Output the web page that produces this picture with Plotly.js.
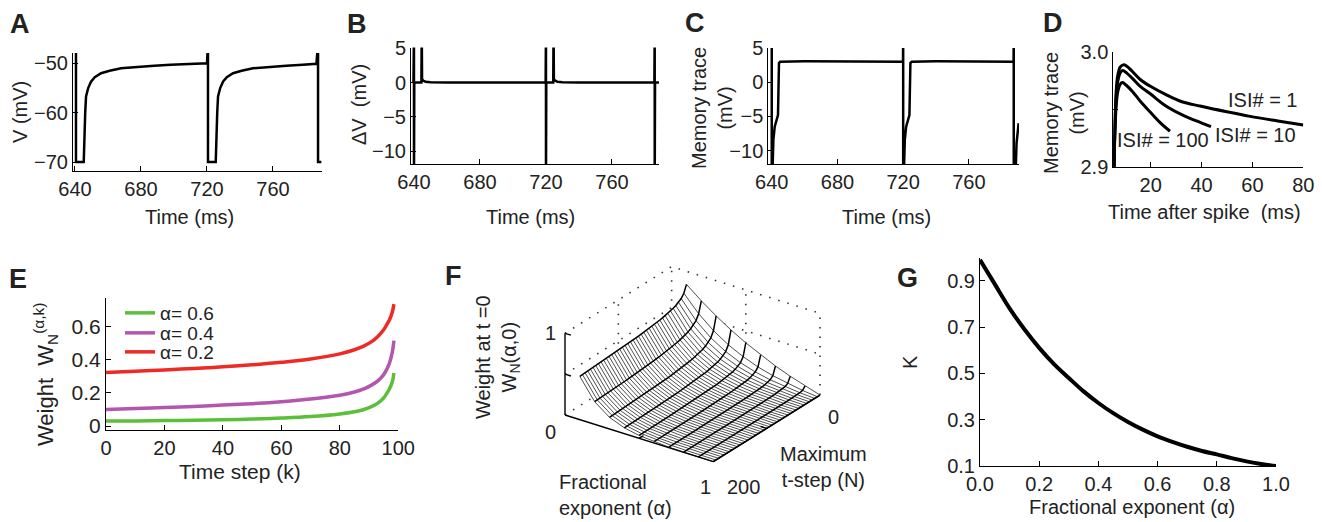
<!DOCTYPE html>
<html><head><meta charset="utf-8">
<script src="https://cdn.plot.ly/plotly-3.0.1.min.js"></script>
<style>html,body{margin:0;padding:0;background:#fff}#chart{width:1322px;height:522px}</style>
</head><body><div id="chart"></div>
<script>
// ---------- Panel A: membrane potential ----------
const tA = [640.6,640.6,645.3,645.5,645.7,646.2,646.7,648.0,649.7,652.0,655.8,661.0,667.9,678.0,688.0,698.0,706.0,714.0,720.0,720.6,720.6,725.3,725.5,725.7,726.2,726.7,728.0,729.7,732.0,735.8,741.0,747.9,758.0,768.1,778.0,786.3,787.3,787.3,789.3];
const vA = [-46,-70,-70,-67,-64.8,-60,-56.7,-55,-53.7,-52.8,-52.0,-51.5,-51.0,-50.7,-50.5,-50.3,-50.2,-50.1,-50.0,-46,-70,-70,-67,-64.8,-60,-56.7,-55,-53.7,-52.8,-52.0,-51.5,-51.0,-50.7,-50.5,-50.3,-50.1,-46,-70,-70];
// ---------- Panel B: delta V ----------
const tB = [639.7,640.0,640.0,640.2,644.5,644.7,644.9,645.5,647.0,650.0,660.0,719.8,720.0,720.0,720.2,724.4,724.6,724.8,725.4,727.0,730.0,740.0,785.7,785.9,785.9,786.1,788.5];
const vB = [0,8,-15,0,0,8,0.5,0.3,0.1,0.03,0,0,8,-15,0,0,8,0.5,0.3,0.1,0.03,0,0,8,-15,0,0];
// ---------- Panel C: memory trace ----------
const tC = [640.0,640.0,640.6,641.0,641.8,643.8,644.4,645.2,660.0,700.0,719.9,720.0,720.0,720.6,721.0,721.8,723.8,724.4,725.2,740.0,787.2,787.3,787.3,788.6,789.0,790.3];
const vC = [8,-15,-11.8,-8.4,-6.5,-4.8,2.8,3.0,3.05,3.0,3.0,8,-15,-11.8,-8.4,-6.5,-4.8,2.8,3.0,3.05,3.0,8,-15,-12,-8.9,-6.0];
// ---------- Panel D: memory trace after spike ----------
const tD1 = [5.6,6.0,6.5,7.0,8.0,9.2,10.5,12.9,16,19.7,26,32,39.4,49.9,59.1,70,80];
const vD1 = [2.899,2.94,2.968,2.979,2.987,2.989,2.988,2.983,2.976,2.9705,2.963,2.957,2.953,2.948,2.944,2.940,2.9365];
const tD10 = [5.6,6.0,6.5,7.0,8.0,8.9,10.5,12.9,16,19.7,26,32.6,38,43.7];
const vD10 = [2.899,2.94,2.963,2.974,2.982,2.984,2.982,2.977,2.970,2.964,2.953,2.945,2.940,2.935];
const tD100 = [5.6,6.0,6.5,7.0,8.0,8.9,10.5,12.9,16,19.7,23.5,27.6];
const vD100 = [2.899,2.935,2.955,2.965,2.972,2.9735,2.971,2.9656,2.957,2.948,2.939,2.931];
const labelsD = ['ISI# = 1','ISI# = 10','ISI# = 100'];
// ---------- Panel E: weights ----------
const kE = [0,10,20,30,40,50,60,70,80,85,88,91,93,95,96,97,98,98.5];
const wE06 = [0.030,0.031,0.033,0.035,0.038,0.042,0.048,0.057,0.073,0.086,0.098,0.118,0.138,0.17,0.195,0.225,0.27,0.32];
const wE04 = [0.100,0.105,0.111,0.118,0.126,0.135,0.147,0.163,0.186,0.205,0.222,0.248,0.272,0.31,0.34,0.38,0.45,0.515];
const wE02 = [0.322,0.330,0.338,0.347,0.357,0.369,0.384,0.404,0.435,0.46,0.48,0.51,0.54,0.58,0.61,0.64,0.69,0.735];
const namesE = ['α= 0.6','α= 0.4','α= 0.2'];
const colorsE = ['#5cbf3a','#b455b0','#ee2a24'];
// ---------- Panel F: weight at t=0, W_N(alpha,0), rows = alpha, columns = N ----------
const aF = [0.1,0.2,0.3,0.4,0.5,0.6,0.7,0.8,0.9,1.0];
const nF = [0,5,10,15,20,25,30,35,40,45,50,55,60,65,70,75,80,85,90,95,100,105,110,115,120,125,130,135,140,145,150,155,160,165,170,175,180,185,190,195,200];
const zF = [
 [0.840,0.752,0.708,0.682,0.664,0.650,0.638,0.629,0.621,0.614,0.608,0.602,0.597,0.592,0.588,0.584,0.580,0.577,0.573,0.571,0.567,0.564,0.562,0.560,0.557,0.555,0.553,0.551,0.549,0.547,0.545,0.543,0.542,0.540,0.538,0.537,0.535,0.534,0.532,0.531,0.530],
 [0.696,0.559,0.495,0.460,0.436,0.417,0.402,0.391,0.381,0.372,0.365,0.358,0.352,0.346,0.341,0.337,0.332,0.329,0.325,0.322,0.318,0.314,0.311,0.310,0.306,0.305,0.302,0.300,0.298,0.296,0.293,0.291,0.290,0.288,0.286,0.284,0.283,0.281,0.280,0.278,0.277],
 [0.568,0.409,0.341,0.305,0.281,0.263,0.250,0.239,0.230,0.222,0.216,0.210,0.204,0.200,0.195,0.191,0.187,0.184,0.181,0.179,0.175,0.172,0.170,0.169,0.166,0.165,0.162,0.161,0.159,0.158,0.155,0.154,0.152,0.151,0.150,0.148,0.147,0.146,0.145,0.144,0.143],
 [0.454,0.293,0.230,0.199,0.178,0.163,0.152,0.143,0.136,0.130,0.125,0.121,0.116,0.112,0.109,0.106,0.103,0.101,0.099,0.097,0.095,0.092,0.091,0.090,0.088,0.087,0.085,0.085,0.083,0.082,0.081,0.080,0.079,0.078,0.077,0.076,0.075,0.074,0.073,0.073,0.072],
 [0.353,0.205,0.151,0.126,0.110,0.098,0.090,0.084,0.079,0.074,0.070,0.067,0.065,0.062,0.059,0.058,0.056,0.054,0.053,0.052,0.050,0.048,0.047,0.047,0.046,0.045,0.044,0.043,0.042,0.042,0.041,0.040,0.039,0.039,0.038,0.038,0.037,0.037,0.036,0.036,0.035],
 [0.264,0.136,0.095,0.076,0.065,0.056,0.051,0.047,0.043,0.040,0.038,0.036,0.034,0.032,0.031,0.030,0.028,0.028,0.027,0.026,0.025,0.024,0.024,0.023,0.022,0.022,0.021,0.021,0.021,0.020,0.020,0.019,0.019,0.019,0.018,0.018,0.018,0.017,0.017,0.017,0.016],
 [0.184,0.086,0.056,0.043,0.036,0.031,0.027,0.025,0.022,0.020,0.019,0.018,0.017,0.016,0.015,0.015,0.014,0.013,0.013,0.012,0.012,0.011,0.011,0.011,0.010,0.010,0.010,0.010,0.010,0.009,0.009,0.009,0.009,0.008,0.008,0.008,0.008,0.008,0.008,0.007,0.007],
 [0.115,0.048,0.029,0.022,0.018,0.015,0.013,0.011,0.010,0.009,0.009,0.008,0.008,0.007,0.007,0.006,0.006,0.006,0.005,0.005,0.005,0.005,0.005,0.004,0.004,0.004,0.004,0.004,0.004,0.004,0.004,0.004,0.003,0.003,0.003,0.003,0.003,0.003,0.003,0.003,0.003],
 [0.054,0.020,0.012,0.008,0.006,0.005,0.005,0.004,0.004,0.003,0.003,0.003,0.003,0.002,0.002,0.002,0.002,0.002,0.002,0.002,0.002,0.002,0.002,0.002,0.002,0.002,0.001,0.001,0.001,0.001,0.001,0.001,0.001,0.001,0.001,0.001,0.001,0.001,0.001,0.001,0.001],
 [0,0,0,0,0,0,0,0,0,0,0,0,0,0,0,0,0,0,0,0,0,0,0,0,0,0,0,0,0,0,0,0,0,0,0,0,0,0,0,0,0]
];
// box frame of the 3-D axes (alpha, N, z), dotted back walls + grid; solid front axes
const boxA = [0,0,1,null,0,0,null,1,1,null,0,0,1,null,0,0,null,0.5,0.5,null,0,0,1,null,0.5,0.5,null,0,1];
const boxN = [200,0,0,null,0,0,null,0,0,null,200,0,0,null,100,100,null,0,0,null,200,0,0,null,200,0,null,100,100];
const boxZ = [1,1,1,null,0,1,null,0,1,null,0.5,0.5,0.5,null,0,1,null,0,1,null,0,0,0,null,0,0,null,0,0];
const axA = [0,0,null,0,1,null,1,1,null,0,0.04,null,0,0.04,null,0.5,0.5,null,1,0.96];
const axN = [200,200,null,200,200,null,200,0,null,200,200,null,200,200,null,200,192,null,100,100];
const axZ = [0,1,null,0,0,null,0,0,null,0.5,0.5,null,1,1,null,0,0,null,0,0];
// ---------- Panel G: K ----------
const aG = [0,0.05,0.1,0.15,0.2,0.25,0.3,0.35,0.4,0.45,0.5,0.55,0.6,0.65,0.7,0.75,0.8,0.85,0.9,0.95,1.0];
const kG = [0.99,0.885,0.78,0.69,0.61,0.54,0.48,0.422,0.372,0.328,0.29,0.257,0.228,0.204,0.183,0.165,0.15,0.134,0.12,0.109,0.1];

const W=1322,H=522;
const FONT='Liberation Sans, Arial, Helvetica, sans-serif';
const px=x=>x/W, py=y=>1-y/H;

function ax(extra){return Object.assign({showline:true,linecolor:'#000',linewidth:1,ticks:'inside',ticklen:5,tickcolor:'#000',tickwidth:1,showgrid:false,zeroline:false,tickfont:{family:FONT,size:20,color:'#222'},fixedrange:true},extra);}

const traces = [];
const blk = (x,y,xa,ya,w)=>({x,y,xaxis:xa,yaxis:ya,type:'scatter',mode:'lines',line:{color:'#000',width:w},showlegend:false,hoverinfo:'skip'});
traces.push(blk(tA,vA,'x','y',2.5));
traces.push(blk(tB,vB,'x2','y2',2.5));
traces.push(blk(tC,vC,'x3','y3',2.5));
[[tD1,vD1],[tD10,vD10],[tD100,vD100]].forEach((d,i)=>{const t=blk(d[0],d[1],'x4','y4',3);t.line.shape='spline';t.name=labelsD[i];traces.push(t);});
const legs=['legend','legend2','legend3'];
[wE06,wE04,wE02].forEach((w,i)=>{traces.push({x:kE,y:w,xaxis:'x5',yaxis:'y5',type:'scatter',mode:'lines',name:namesE[i],legend:legs[i],line:{color:colorsE[i],width:3.5,shape:'spline'},showlegend:true,hoverinfo:'skip'});});
const g=blk(aG,kG,'x6','y6',4); g.line.shape='spline'; traces.push(g);

// ---- Panel F: oblique view of the surface, drawn on a hidden 2-D axis ----
const VIEW={ax:148.3, ay:-46.7, nx:0.5333, ny:0.3333, zy:81.7};   // view direction of the 3-D box
function proj(a,n,z){return [VIEW.ax*a+VIEW.nx*(200-n), VIEW.ay*a+VIEW.ny*(200-n)+VIEW.zy*z];}
function projList(A,N,Z){const X=[],Y=[];for(let i=0;i<A.length;i++){if(A[i]===null){X.push(null);Y.push(null);continue;}const p=proj(A[i],N[i],Z[i]);X.push(p[0]);Y.push(p[1]);}return [X,Y];}
// dotted frame
let pb=projList(boxA,boxN,boxZ);
traces.push({x:pb[0],y:pb[1],xaxis:'x7',yaxis:'y7',type:'scatter',mode:'lines',line:{color:'#333',width:1.6,dash:'1.5px,8px'},showlegend:false,hoverinfo:'skip',connectgaps:false});
// white surface outline (hides frame behind it)
{const A=[],N=[],Z=[];const L=nF.length-1,R=aF.length-1;
 for(let i=0;i<=R;i++){A.push(aF[i]);N.push(nF[L]);Z.push(zF[i][L]);}
 for(let j=L;j>=0;j--){A.push(aF[R]);N.push(nF[j]);Z.push(zF[R][j]);}
 for(let i=R;i>=0;i--){A.push(aF[i]);N.push(nF[0]);Z.push(zF[i][0]);}
 for(let j=0;j<=L;j++){A.push(aF[0]);N.push(nF[j]);Z.push(zF[0][j]);}
 const p=projList(A,N,Z);
 traces.push({x:p[0],y:p[1],xaxis:'x7',yaxis:'y7',type:'scatter',mode:'lines',fill:'toself',fillcolor:'#fff',line:{width:0,color:'#fff'},showlegend:false,hoverinfo:'skip'});}
// constant-N mesh lines (dense)
{const A=[],N=[],Z=[];for(let j=0;j<nF.length;j++){for(let i=0;i<aF.length;i++){A.push(aF[i]);N.push(nF[j]);Z.push(zF[i][j]);}A.push(null);N.push(null);Z.push(null);}
 const p=projList(A,N,Z);
 traces.push({x:p[0],y:p[1],xaxis:'x7',yaxis:'y7',type:'scatter',mode:'lines',line:{color:'#222',width:0.8},showlegend:false,hoverinfo:'skip',connectgaps:false});}
// constant-alpha mesh lines
{const A=[],N=[],Z=[];for(let i=0;i<aF.length;i++){for(let j=0;j<nF.length;j++){A.push(aF[i]);N.push(nF[j]);Z.push(zF[i][j]);}A.push(null);N.push(null);Z.push(null);}
 const p=projList(A,N,Z);
 traces.push({x:p[0],y:p[1],xaxis:'x7',yaxis:'y7',type:'scatter',mode:'lines',line:{color:'#000',width:1.5},showlegend:false,hoverinfo:'skip',connectgaps:false});}
// solid front axes with ticks
let pa=projList(axA,axN,axZ);
traces.push({x:pa[0],y:pa[1],xaxis:'x7',yaxis:'y7',type:'scatter',mode:'lines',line:{color:'#000',width:1.4},showlegend:false,hoverinfo:'skip',connectgaps:false});

const timeTicks=[640,680,720,760];
const legBase={x:px(120),xanchor:'left',yanchor:'top',bgcolor:'rgba(0,0,0,0)',font:{family:FONT,size:19,color:'#222'},itemwidth:30};
const layout = {
  width:W,height:H,margin:{l:0,r:0,t:0,b:0},paper_bgcolor:'#fff',plot_bgcolor:'rgba(0,0,0,0)',
  font:{family:FONT,color:'#222'},
  showlegend:true,
  legend:Object.assign({},legBase,{y:py(294)}),
  legend2:Object.assign({},legBase,{y:py(314)}),
  legend3:Object.assign({},legBase,{y:py(333)}),
  xaxis: ax({domain:[px(73),px(322)],range:[638.8,789.7],tickvals:timeTicks,anchor:'y'}),
  yaxis: ax({domain:[py(171),py(53)],range:[-71.8,-47.9],tickvals:[-70,-60,-50],anchor:'x'}),
  xaxis2: ax({domain:[px(411),px(659)],range:[638.2,788.5],tickvals:timeTicks,anchor:'y2'}),
  yaxis2: ax({domain:[py(164.3),py(47.5)],range:[-11.9,5.1],tickvals:[-10,-5,0,5],anchor:'x2'}),
  xaxis3: ax({domain:[px(768.3),px(1019)],range:[637.9,790.5],tickvals:timeTicks,anchor:'y3'}),
  yaxis3: ax({domain:[py(164.3),py(48)],range:[-12,5],tickvals:[-10,-5,0,5],anchor:'x3'}),
  xaxis4: ax({domain:[px(1113.3),px(1303.3)],range:[5.3,80],tickvals:[20,40,60,80],anchor:'y4'}),
  yaxis4: ax({domain:[py(166.7),py(52.3)],range:[2.9,3.0],tickvals:[2.9,3.0],ticktext:['2.9','3.0'],minor:{tickvals:[2.95],ticks:'inside',ticklen:5,tickcolor:'#000',showgrid:false},anchor:'x4'}),
  xaxis5: ax({domain:[px(106),px(398.3)],range:[0,100],tickvals:[0,20,40,60,80,100],anchor:'y5',tickfont:{family:FONT,size:20,color:'#222'}}),
  yaxis5: ax({domain:[py(430),py(298.3)],range:[-0.024,0.77],tickvals:[0,0.2,0.4,0.6],ticktext:['0','0.2','0.4','0.6'],anchor:'x5',tickfont:{family:FONT,size:21,color:'#222'}}),
  xaxis6: ax({domain:[px(980),px(1276)],range:[0,1],tickvals:[0,0.2,0.4,0.6,0.8,1.0],tickformat:'.1f',anchor:'y6'}),
  yaxis6: ax({domain:[py(466),py(257.5)],range:[0.1,1.0],tickvals:[0.1,0.3,0.5,0.7,0.9],tickformat:'.1f',anchor:'x6'}),
  xaxis7: {domain:[px(540),px(880)],range:[540-565,880-565],visible:false,fixedrange:true,anchor:'y7'},
  yaxis7: {domain:[py(480),py(250)],range:[415-480,415-250],visible:false,fixedrange:true,anchor:'x7'},
  annotations:[]
};
function ann(text,x,y,o){layout.annotations.push(Object.assign({text,x:px(x),y:py(y),xref:'paper',yref:'paper',showarrow:false,xanchor:'center',yanchor:'middle',font:{family:FONT,size:20,color:'#222'}},o||{}));}
// panel letters
[['A',20,24],['B',357,24],['C',695,23],['D',1053,23],['E',18,279],['F',453,276],['G',907,278]].forEach(l=>ann('<b>'+l[0]+'</b>',l[1],l[2],{font:{family:FONT,size:27,color:'#222'}}));
// axis titles
ann('Time (ms)',189,217);
ann('V (mV)',20,112,{textangle:-90});
ann('Time (ms)',530,217);
ann('ΔV  (mV)',359,105,{textangle:-90});
ann('Time (ms)',886,217);
ann('Memory trace<br>(mV)',712,108,{textangle:-90});
ann('Time after spike  (ms)',1204,212);
ann('Memory trace<br>(mV)',1064,113,{textangle:-90});
ann('Time step (k)',240,471,{font:{family:FONT,size:21,color:'#222'}});
ann('Weight  W<sub>N</sub><sup>(α,k)</sup>',45,375,{textangle:-90,font:{family:FONT,size:22,color:'#222'}});
ann('Weight at t =0<br>W<sub>N</sub>(α,0)',497,357,{textangle:-90});
ann('Fractional<br>exponent (α)',557,495,{xanchor:'left',align:'left'});
ann('Maximum<br>t-step (N)',823,467);
ann('K',910,362,{textangle:-90});
ann('Fractional exponent (α)',1132,507);
// F tick labels
ann('1',550,333); ann('0',550,432); ann('1',705,487); ann('200',743,487); ann('0',833,417);
// D curve labels
ann(labelsD[0],1263,100); ann(labelsD[1],1255,135); ann(labelsD[2],1163,140);

Plotly.newPlot('chart',traces,layout,{displayModeBar:false,staticPlot:true});
</script></body></html>
